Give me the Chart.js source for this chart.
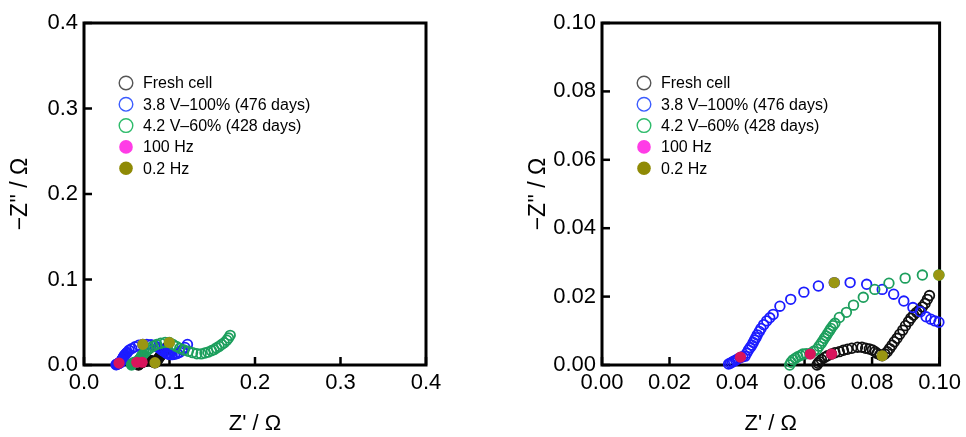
<!DOCTYPE html>
<html>
<head>
<meta charset="utf-8">
<script src="https://cdn.jsdelivr.net/npm/chart.js@4/dist/chart.umd.min.js"></script>
<style>
  body { margin: 0; background: #fff; width: 966px; height: 437px; overflow: hidden; position: relative; }
  .box { position: absolute; top: 0; height: 437px; }
  #leftBox { left: 0; width: 450px; }
  #rightBox { left: 518px; width: 448px; }
</style>
</head>
<body>
<div class="box" id="leftBox"><canvas id="leftChart"></canvas></div>
<div class="box" id="rightBox"><canvas id="rightChart"></canvas></div>
<script>
// === DATA ===
const seriesNames = ['Fresh cell', '3.8 V\u2013100% (476 days)', '4.2 V\u201360% (428 days)', '100 Hz', '0.2 Hz'];

const freshX = [0.0637, 0.0640, 0.0644, 0.0650, 0.0659, 0.0668, 0.0680, 0.0690, 0.0703, 0.0715, 0.0727, 0.0740,
  0.0757, 0.0770, 0.0781, 0.0792, 0.0801, 0.0809, 0.0815, 0.0823, 0.0830, 0.0838, 0.0845, 0.0852, 0.0859,
  0.0866, 0.0874, 0.0882, 0.0891, 0.0899, 0.0908, 0.0915, 0.0923, 0.0932, 0.0940, 0.0949, 0.0957, 0.0964, 0.0970];
const freshY = [0.0000, 0.0005, 0.0010, 0.0016, 0.0022, 0.0027, 0.0032, 0.0036, 0.0039, 0.0043, 0.0046, 0.0049,
  0.0052, 0.0052, 0.0049, 0.0047, 0.0044, 0.0039, 0.0034, 0.0030, 0.0027, 0.0032, 0.0039, 0.0048, 0.0058,
  0.0068, 0.0078, 0.0090, 0.0102, 0.0115, 0.0127, 0.0137, 0.0146, 0.0154, 0.0161, 0.0170, 0.0180, 0.0192, 0.0203];

const storedHighX = [0.0375, 0.0380, 0.0385, 0.0390, 0.0396, 0.0403, 0.0410, 0.0417, 0.0424, 0.0429, 0.0434, 0.0439,
  0.0444, 0.0448, 0.0452, 0.0456, 0.0460, 0.0466, 0.0471, 0.0479, 0.0488, 0.0497, 0.0507, 0.0527, 0.0559,
  0.0598, 0.0641, 0.0688, 0.0735, 0.0784, 0.0830, 0.0864, 0.0894, 0.0921, 0.0943, 0.0960, 0.0974, 0.0986, 0.0998,
  0.1010, 0.1030, 0.1060, 0.1090, 0.1120, 0.1150, 0.1180, 0.1210];
const storedHighY = [0.0003, 0.0005, 0.0008, 0.0011, 0.0014, 0.0018, 0.0022, 0.0024, 0.0026, 0.0035, 0.0044, 0.0051,
  0.0058, 0.0066, 0.0073, 0.0080, 0.0088, 0.0098, 0.0107, 0.0118, 0.0129, 0.0138, 0.0148, 0.0172, 0.0192,
  0.0213, 0.0231, 0.0241, 0.0241, 0.0236, 0.0221, 0.0207, 0.0187, 0.0168, 0.0156, 0.0141, 0.0134, 0.0129, 0.0125,
  0.0122, 0.0121, 0.0125, 0.0135, 0.0150, 0.0175, 0.0205, 0.0240];

const storedMidX = [0.0556, 0.0560, 0.0566, 0.0573, 0.0580, 0.0588, 0.0595, 0.0605, 0.0617, 0.0627, 0.0637, 0.0643,
  0.0649, 0.0654, 0.0659, 0.0664, 0.0669, 0.0674, 0.0678, 0.0684, 0.0690, 0.0703, 0.0724, 0.0745, 0.0774,
  0.0808, 0.0850, 0.0898, 0.0949, 0.0998, 0.1040, 0.1080, 0.1120, 0.1170, 0.1220, 0.1270, 0.1320, 0.1370,
  0.1415, 0.1450, 0.1490, 0.1520, 0.1550, 0.1580, 0.1610, 0.1640, 0.1670, 0.1690, 0.1710];
const storedMidY = [0.0000, 0.0008, 0.0015, 0.0020, 0.0024, 0.0028, 0.0032, 0.0033, 0.0034, 0.0040, 0.0046, 0.0055,
  0.0063, 0.0070, 0.0078, 0.0085, 0.0093, 0.0100, 0.0107, 0.0115, 0.0122, 0.0139, 0.0154, 0.0175, 0.0198,
  0.0221, 0.0239, 0.0254, 0.0263, 0.0263, 0.0240, 0.0218, 0.0195, 0.0175, 0.0160, 0.0145, 0.0132, 0.0130,
  0.0140, 0.0150, 0.0167, 0.0180, 0.0200, 0.0218, 0.0240, 0.0260, 0.0290, 0.0315, 0.0347];

const hz100X = [0.0410, 0.0617, 0.0680];
const hz100Y = [0.0023, 0.0032, 0.0032];
const hz02X = [0.0688, 0.0830, 0.0998];
const hz02Y = [0.0241, 0.0027, 0.0263];

const leftTickValues = [0, 0.1, 0.2, 0.3, 0.4];
const leftTickLabels = ['0.0', '0.1', '0.2', '0.3', '0.4'];
const rightTickValues = [0, 0.02, 0.04, 0.06, 0.08, 0.10];
const rightTickLabels = ['0.00', '0.02', '0.04', '0.06', '0.08', '0.10'];

// === STYLE ===
const FONT = "'Liberation Sans', Arial, sans-serif";
const markColors = ['#111111', '#1c1cff', '#1d9f5d', '#d8145c', '#9a9612'];
const legendColors = ['#555555', '#3b5cff', '#2dbb6a', '#ff3ce6', '#8f8a05'];

function pts(xs, ys, max) {
  const out = [];
  xs.forEach((x, i) => {
    if (x <= max * 1.001 && ys[i] <= max * 1.001) out.push({ x: x, y: ys[i] });
  });
  return out;
}

// frame, inward ticks and in-plot legend
const framePlugin = {
  id: 'frame',
  beforeDatasetsDraw(chart) {
    const ctx = chart.ctx;
    const a = chart.chartArea;
    ctx.save();
    ctx.strokeStyle = '#000';
    ctx.lineWidth = 3;
    ctx.strokeRect(a.left, a.top, a.right - a.left, a.bottom - a.top);
    ctx.lineWidth = 2.5;
    chart.scales.x.ticks.forEach(t => {
      const px = chart.scales.x.getPixelForValue(t.value);
      ctx.beginPath(); ctx.moveTo(px, a.bottom); ctx.lineTo(px, a.bottom - 8); ctx.stroke();
    });
    chart.scales.y.ticks.forEach(t => {
      const py = chart.scales.y.getPixelForValue(t.value);
      ctx.beginPath(); ctx.moveTo(a.left, py); ctx.lineTo(a.left + 8, py); ctx.stroke();
    });
    ctx.restore();
  },
  afterDraw(chart) {
    const ctx = chart.ctx;
    const a = chart.chartArea;
    ctx.save();
    ctx.font = '16px ' + FONT;
    ctx.textBaseline = 'middle';
    seriesNames.forEach((name, i) => {
      const mx = a.left + 42;
      const my = a.top + 60 + i * 21.3;
      ctx.beginPath();
      ctx.arc(mx, my, 6.8, 0, Math.PI * 2);
      if (i < 3) {
        ctx.strokeStyle = legendColors[i];
        ctx.lineWidth = 1.4;
        ctx.stroke();
      } else {
        ctx.fillStyle = legendColors[i];
        ctx.fill();
      }
      ctx.fillStyle = '#000';
      ctx.fillText(name, a.left + 59, my + 1);
    });
    ctx.restore();
  }
};

function makeChart(id, max, tickValues, tickLabels) {
  const open = (label, xs, ys, i) => ({
    label: label,
    data: pts(xs, ys, max),
    pointStyle: 'circle',
    pointRadius: 4.8,
    pointBorderWidth: 1.8,
    pointBorderColor: markColors[i],
    pointBackgroundColor: 'rgba(0,0,0,0)',
    showLine: false,
    clip: false,
    order: 5 - i
  });
  const filled = (label, xs, ys, i) => ({
    label: label,
    data: pts(xs, ys, max),
    pointStyle: 'circle',
    pointRadius: 5.6,
    pointBorderWidth: 0,
    pointBackgroundColor: markColors[i],
    showLine: false,
    clip: false,
    order: 0
  });
  const axis = (title, isX) => ({
    type: 'linear',
    min: 0,
    max: max,
    afterBuildTicks: s => { s.ticks = tickValues.map(v => ({ value: v })); },
    afterFit: s => { if (isX) s.height = 72; else s.width = 84; },
    grid: { display: false, drawTicks: false },
    border: { display: false },
    ticks: {
      padding: isX ? 5 : 6,
      color: '#000',
      font: { family: FONT, size: 22 },
      maxRotation: 0,
      autoSkip: false,
      callback: (v, idx) => tickLabels[idx]
    },
    title: {
      display: true,
      text: title,
      color: '#000',
      font: { family: FONT, size: isX ? 22 : 23 },
      padding: isX ? { top: 4, bottom: 0 } : { top: 7, bottom: 4 }
    }
  });
  return new Chart(document.getElementById(id), {
    type: 'scatter',
    data: {
      datasets: [
        open(seriesNames[0], freshX, freshY, 0),
        open(seriesNames[1], storedHighX, storedHighY, 1),
        open(seriesNames[2], storedMidX, storedMidY, 2),
        filled(seriesNames[3], hz100X, hz100Y, 3),
        filled(seriesNames[4], hz02X, hz02Y, 4)
      ]
    },
    options: {
      responsive: true,
      maintainAspectRatio: false,
      animation: false,
      layout: { padding: { top: 23, right: id === 'leftChart' ? 24 : 23, bottom: 0, left: 0 } },
      plugins: { legend: { display: false }, tooltip: { enabled: false } },
      scales: {
        x: axis("Z' / \u03a9", true),
        y: axis("\u2212Z'' / \u03a9", false)
      }
    },
    plugins: [framePlugin]
  });
}

makeChart('leftChart', 0.4, leftTickValues, leftTickLabels);
makeChart('rightChart', 0.1, rightTickValues, rightTickLabels);
</script>
</body>
</html>
